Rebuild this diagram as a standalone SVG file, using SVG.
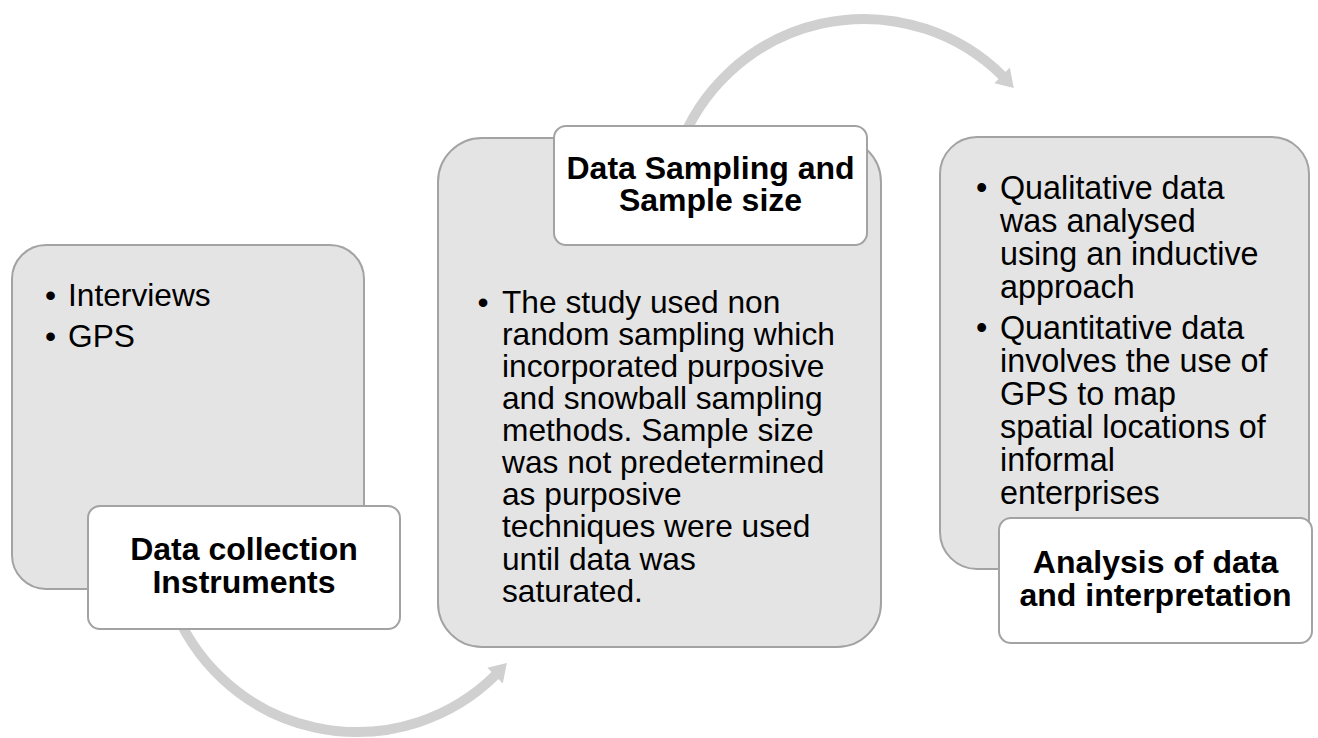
<svg xmlns="http://www.w3.org/2000/svg" width="1318" height="738" viewBox="0 0 1318 738">
  <style>
    .panel { fill: #e4e4e4; stroke: #a3a3a3; stroke-width: 2; }
    .label { fill: #ffffff; stroke: #a3a3a3; stroke-width: 2; }
    .body { font-family: "Liberation Sans", Arial, sans-serif; font-size: 31.7px; fill: #000000; }
    .body3 { font-family: "Liberation Sans", Arial, sans-serif; font-size: 32.3px; fill: #000000; }
    .title { font-family: "Liberation Sans", Arial, sans-serif; font-size: 32px; font-weight: bold; fill: #000000; text-anchor: middle; }
    .flow { fill: none; stroke: #d0d0d0; stroke-width: 10; }
    .head { fill: #d0d0d0; }
  </style>

  <rect width="1318" height="738" fill="#ffffff"/>

  <!-- curved flow arrows between the steps -->
  <g id="connectors">
    <path class="flow" d="M 171.9 602.4 A 197 197 0 0 0 496.3 674.3"/>
    <polygon class="head" points="506.8,662.9 487.4,667.7 502.8,683.4"/>
    <path class="flow" d="M 678.9 148.6 A 197 197 0 0 1 1003.3 76.7"/>
    <polygon class="head" points="1013.8,88.1 994.4,83.3 1009.8,67.6"/>
  </g>

  <!-- step 1 -->
  <g id="step-collection">
    <rect class="panel" x="12" y="245" width="352" height="344" rx="34" ry="34"/>
    <text class="body" x="45" y="305.7">•</text>
    <text class="body" x="68" y="305.7">Interviews</text>
    <text class="body" x="45" y="346.7">•</text>
    <text class="body" x="68" y="346.7">GPS</text>
    <rect class="label" x="88" y="506" width="312" height="123" rx="12" ry="12"/>
    <text class="title" x="244" y="560">Data collection</text>
    <text class="title" x="244" y="593">Instruments</text>
  </g>

  <!-- step 2 -->
  <g id="step-sampling">
    <rect class="panel" x="438" y="138" width="443" height="509" rx="44" ry="44"/>
    <rect class="label" x="554" y="126" width="313" height="119" rx="12" ry="12"/>
    <text class="title" x="710.5" y="178.5">Data Sampling and</text>
    <text class="title" x="710.5" y="211">Sample size</text>
    <text class="body" x="477.5" y="312.7">•</text>
    <text class="body" y="312.7">
      <tspan x="502" y="312.7">The study used non</tspan>
      <tspan x="502" y="344.8">random sampling which</tspan>
      <tspan x="502" y="376.9">incorporated purposive</tspan>
      <tspan x="502" y="409">and snowball sampling</tspan>
      <tspan x="502" y="441.1">methods. Sample size</tspan>
      <tspan x="502" y="473.2">was not predetermined</tspan>
      <tspan x="502" y="505.3">as purposive</tspan>
      <tspan x="502" y="537.4">techniques were used</tspan>
      <tspan x="502" y="569.5">until data was</tspan>
      <tspan x="502" y="601.6">saturated.</tspan>
    </text>
  </g>

  <!-- step 3 -->
  <g id="step-analysis">
    <rect class="panel" x="940" y="137" width="369" height="432" rx="37" ry="37"/>
    <text class="body3" x="976" y="199">•</text>
    <text class="body3" y="199">
      <tspan x="1000" y="199">Qualitative data</tspan>
      <tspan x="1000" y="232">was analysed</tspan>
      <tspan x="1000" y="265">using an inductive</tspan>
      <tspan x="1000" y="298">approach</tspan>
    </text>
    <text class="body3" x="976" y="339">•</text>
    <text class="body3" y="339">
      <tspan x="1000" y="339">Quantitative data</tspan>
      <tspan x="1000" y="372">involves the use of</tspan>
      <tspan x="1000" y="405">GPS to map</tspan>
      <tspan x="1000" y="438">spatial locations of</tspan>
      <tspan x="1000" y="471">informal</tspan>
      <tspan x="1000" y="504">enterprises</tspan>
    </text>
    <rect class="label" x="999" y="518" width="313" height="125" rx="12" ry="12"/>
    <text class="title" x="1155.5" y="573">Analysis of data</text>
    <text class="title" x="1155.5" y="606">and interpretation</text>
  </g>
</svg>
